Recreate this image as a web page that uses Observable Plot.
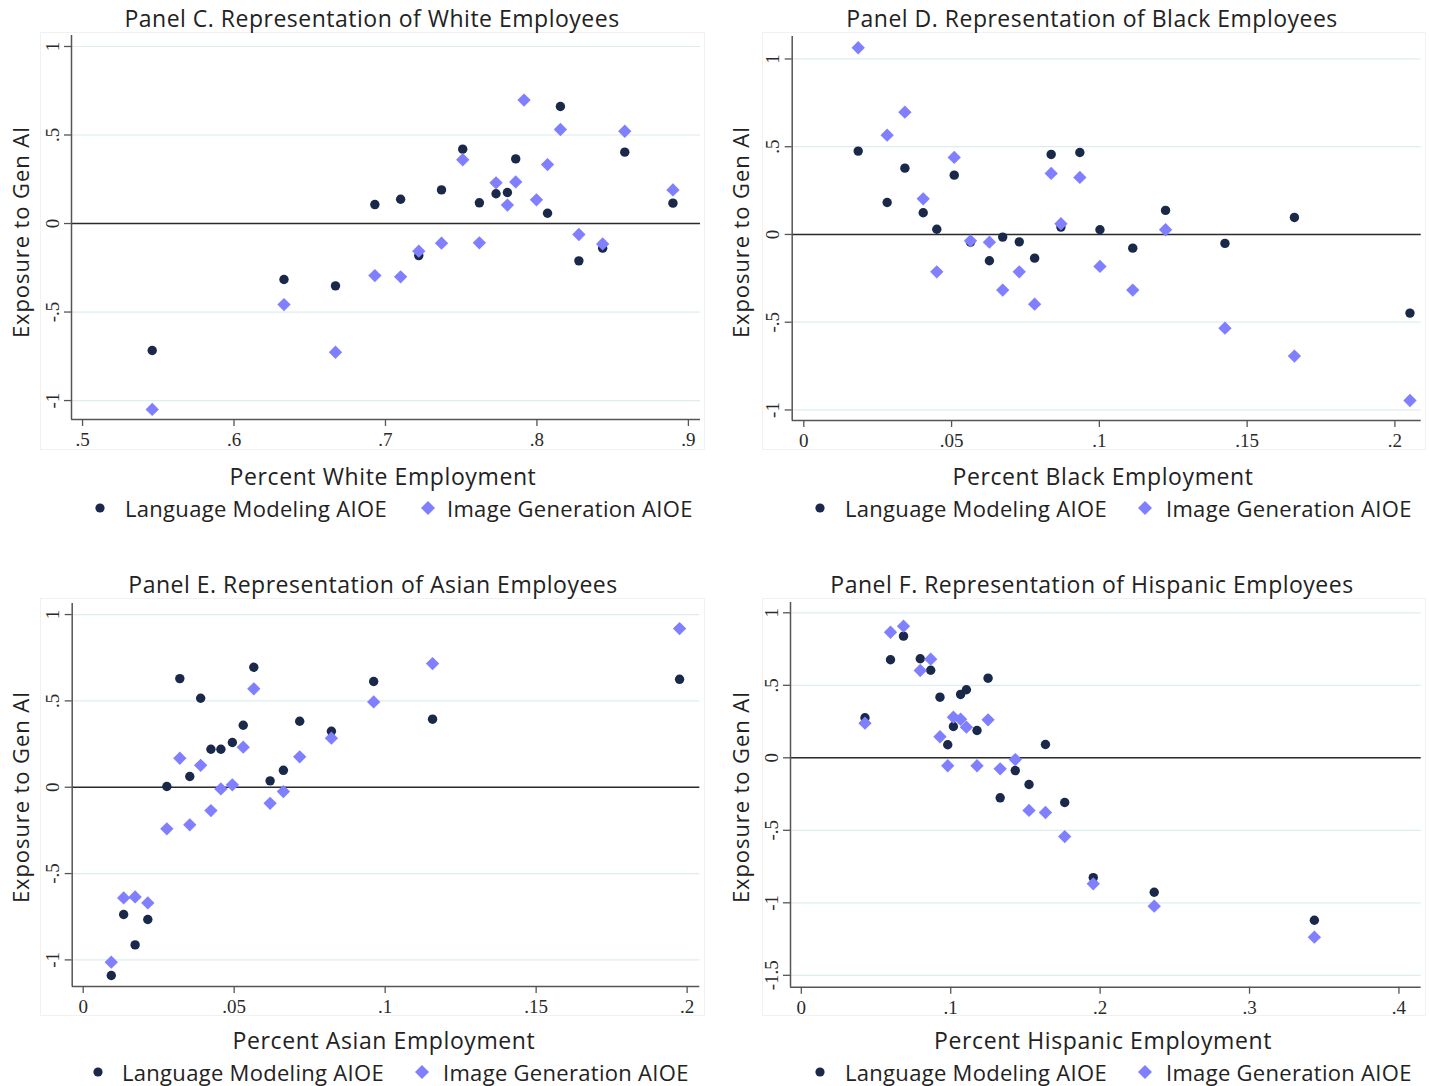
<!DOCTYPE html>
<html><head><meta charset="utf-8">
<script src="https://cdn.jsdelivr.net/npm/d3@7"></script>
<script src="https://cdn.jsdelivr.net/npm/@observablehq/plot@0.6"></script>
<style>
body{margin:0;background:#fff;}
#root{position:relative;width:1430px;height:1086px;overflow:hidden;font-family:"Open Sans",sans-serif;color:#222;}
.c{position:absolute;white-space:nowrap;transform:translate(-50%,-50%);line-height:1;}
.ttl{font-size:23px;letter-spacing:0.5px;}
.xl{font-size:23px;letter-spacing:0.6px;}
.yl{font-size:22px;letter-spacing:0.9px;transform:translate(-50%,-50%) rotate(-90deg);}
.leg{position:absolute;white-space:nowrap;font-size:22px;letter-spacing:0.3px;line-height:1;transform:translateY(-50%);}
.box{position:absolute;border:1px solid #f1f1f1;box-sizing:border-box;}
.p{position:absolute;max-width:none !important;}
</style></head>
<body><div id="root"></div>
<script>
// ---------- data ----------
const whiteX    = [0.546,0.633,0.667,0.693,0.710,0.722,0.737,0.751,0.762,0.773,0.7805,0.786,0.7915,0.7997,0.807,0.8155,0.8277,0.8434,0.858,0.8898];
const whiteLang = [-0.717,-0.316,-0.352,0.107,0.137,-0.181,0.19,0.42,0.117,0.168,0.175,0.365,null,null,0.058,0.661,-0.211,-0.139,0.403,0.115];
const whiteImg  = [-1.05,-0.458,-0.727,-0.294,-0.301,-0.156,-0.111,0.36,-0.109,0.23,0.104,0.235,0.697,0.134,0.333,0.531,-0.062,-0.115,0.521,0.19];

const blackX    = [0.0184,0.0282,0.0342,0.0404,0.045,0.0509,0.0564,0.0628,0.0673,0.0729,0.0781,0.0837,0.087,0.0934,0.1002,0.1113,0.1224,0.1425,0.166,0.2051];
const blackLang = [0.475,0.182,0.378,0.124,0.03,0.338,-0.044,-0.15,-0.015,-0.042,-0.135,0.456,0.042,0.467,0.027,-0.078,0.137,-0.051,0.097,-0.448];
const blackImg  = [1.064,0.566,0.697,0.203,-0.213,0.439,-0.036,-0.044,-0.317,-0.213,-0.397,0.348,0.061,0.325,-0.182,-0.317,0.027,-0.534,-0.693,-0.946];

const asianX    = [0.0093,0.0134,0.0172,0.0214,0.0277,0.032,0.0353,0.0389,0.0423,0.0456,0.0494,0.053,0.0565,0.0619,0.0663,0.0717,0.0822,0.0962,0.1157,0.1975];
const asianLang = [-1.09,-0.737,-0.913,-0.766,0.004,0.629,0.062,0.515,0.22,0.22,0.259,0.359,0.695,0.037,0.098,0.382,0.324,0.612,0.394,0.625];
const asianImg  = [-1.013,-0.641,-0.635,-0.67,-0.241,0.168,-0.218,0.127,-0.135,-0.01,0.014,0.232,0.57,-0.093,-0.025,0.176,0.284,0.494,0.716,0.919];

const hispX     = [0.0426,0.0597,0.0684,0.0796,0.0866,0.0928,0.098,0.1018,0.1066,0.1105,0.1176,0.125,0.1331,0.1432,0.1524,0.1634,0.1763,0.1954,0.2362,0.3434];
const hispLang  = [0.276,0.676,0.839,0.683,0.604,0.418,0.09,0.216,0.437,0.469,0.188,0.549,-0.276,-0.088,-0.184,0.092,-0.308,-0.826,-0.927,-1.12];
const hispImg   = [0.239,0.866,0.908,0.602,0.68,0.145,-0.055,0.28,0.266,0.211,-0.055,0.262,-0.076,-0.012,-0.363,-0.377,-0.543,-0.869,-1.023,-1.237];

const ticksWhiteX = [0.5,0.6,0.7,0.8,0.9];
const ticksSmallX = [0,0.05,0.1,0.15,0.2];
const ticksHispX  = [0,0.1,0.2,0.3,0.4];
const ticksY      = [-1,-0.5,0,0.5,1];
const ticksHispY  = [-1.5,-1,-0.5,0,0.5,1];

const titles  = ["Panel C. Representation of White Employees","Panel D. Representation of Black Employees","Panel E. Representation of Asian Employees","Panel F. Representation of Hispanic Employees"];
const xLabels = ["Percent White Employment","Percent Black Employment","Percent Asian Employment","Percent Hispanic Employment"];
const yLabel  = "Exposure to Gen AI";
const seriesNames = ["Language Modeling AIOE","Image Generation AIOE"];

// ---------- styles ----------
const LANG_COLOR = "#1a2849";
const IMG_COLOR = "#7f7fff";
const SERIF = "Liberation Serif";
const fmt = d => d === 0 ? "0" : String(d).replace(/^(-?)0\./, "$1.");

const panels = [
  {x: whiteX, lang: whiteLang, img: whiteImg, xt: ticksWhiteX, yt: ticksY, xd:[0.4927,0.908], yd:[-1.107,1.062],
   left:0, top:0, w:720, h:460, mL:71, mR:20, mT:35, mB:41,
   box:[40,32,705,450], title:[372,18], xl:[383,476], yl:[20,232], leg:[100,125,428,447,508]},
  {x: blackX, lang: blackLang, img: blackImg, xt: ticksSmallX, yt: ticksY, xd:[-0.00393,0.2089], yd:[-1.06,1.128],
   left:720, top:0, w:710, h:460, mL:71.7, mR:9.3, mT:36, mB:40,
   box:[762,32,1426,450], title:[1092,18], xl:[1103,476], yl:[740,232], leg:[820,845,1145,1166,508]},
  {x: asianX, lang: asianLang, img: asianImg, xt: ticksSmallX, yt: ticksY, xd:[-0.00364,0.2042], yd:[-1.154,1.064],
   left:0, top:566, w:720, h:460, mL:71.7, mR:20.7, mT:37, mB:40,
   box:[40,598,705,1016], title:[373,584], xl:[384,1040], yl:[20,797], leg:[98,122,422,443,1072]},
  {x: hispX, lang: hispLang, img: hispImg, xt: ticksHispX, yt: ticksHispY, xd:[-0.00724,0.4149], yd:[-1.582,1.071],
   left:720, top:566, w:710, h:460, mL:70, mR:9.3, mT:36, mB:39.3,
   box:[762,598,1426,1016], title:[1092,584], xl:[1103,1040], yl:[740,797], leg:[820,845,1145,1166,1072]}
];

const root = document.getElementById("root");
function add(html){ root.insertAdjacentHTML("beforeend", html); }

panels.forEach((p, i) => {
  const [bx0, by0, bx1, by1] = p.box;
  add(`<div class="box" style="left:${bx0}px;top:${by0}px;width:${bx1-bx0}px;height:${by1-by0}px"></div>`);
  const rowsL = p.x.map((x, k) => ({x, y: p.lang[k]})).filter(d => d.y != null);
  const rowsI = p.x.map((x, k) => ({x, y: p.img[k]})).filter(d => d.y != null);
  const chart = Plot.plot({
    width: p.w, height: p.h,
    marginLeft: p.mL, marginRight: p.mR, marginTop: p.mT, marginBottom: p.mB,
    x: {domain: p.xd, axis: null}, y: {domain: p.yd, axis: null},
    style: {background: "transparent", overflow: "visible", color: "#222"},
    marks: [
      Plot.gridY(p.yt, {stroke: "#deecee", strokeOpacity: 1, strokeWidth: 1.2}),
      Plot.ruleY([0], {stroke: "#2b2b2b", strokeWidth: 1.6}),
      Plot.ruleX([p.xd[0]], {stroke: "#555", strokeWidth: 1.5}),
      Plot.ruleY([p.yd[0]], {stroke: "#555", strokeWidth: 1.5}),
      Plot.axisX(p.xt, {tickSize: 7, tickFormat: () => "", label: null, stroke: "#555", strokeWidth: 1.3}),
      Plot.axisY(p.yt, {tickSize: 7, tickFormat: () => "", label: null, stroke: "#555", strokeWidth: 1.3}),
      Plot.text(p.xt, {x: d => d, text: fmt, frameAnchor: "bottom", lineAnchor: "top", dy: 13,
                       fontSize: 19, fontFamily: SERIF, fill: "#2a2a2a"}),
      Plot.text(p.yt, {y: d => d, text: fmt, frameAnchor: "left", rotate: -90, textAnchor: "middle",
                       lineAnchor: "bottom", dx: -13, fontSize: 19, fontFamily: SERIF, fill: "#2a2a2a"}),
      Plot.dot(rowsL, {x: "x", y: "y", r: 4.7, fill: LANG_COLOR, symbol: "circle"}),
      Plot.dot(rowsI, {x: "x", y: "y", r: 6, fill: IMG_COLOR, symbol: "diamond2"})
    ]
  });
  chart.classList.add("p");
  chart.style.left = p.left + "px";
  chart.style.top = p.top + "px";
  root.appendChild(chart);

  add(`<div class="c ttl" style="left:${p.title[0]}px;top:${p.title[1]}px">${titles[i]}</div>`);
  add(`<div class="c xl" style="left:${p.xl[0]}px;top:${p.xl[1]}px">${xLabels[i]}</div>`);
  add(`<div class="c yl" style="left:${p.yl[0]}px;top:${p.yl[1]}px">${yLabel}</div>`);
  const [cx, tx1, dx, tx2, ly] = p.leg;
  add(`<svg style="position:absolute;left:0;top:0;overflow:visible" width="1" height="1">
        <circle cx="${cx}" cy="${ly}" r="4.6" fill="${LANG_COLOR}"/>
        <path d="M${dx},${ly-7}L${dx+7},${ly}L${dx},${ly+7}L${dx-7},${ly}Z" fill="${IMG_COLOR}"/></svg>`);
  add(`<div class="leg" style="left:${tx1}px;top:${ly}px">${seriesNames[0]}</div>`);
  add(`<div class="leg" style="left:${tx2}px;top:${ly}px">${seriesNames[1]}</div>`);
});
</script></body></html>
